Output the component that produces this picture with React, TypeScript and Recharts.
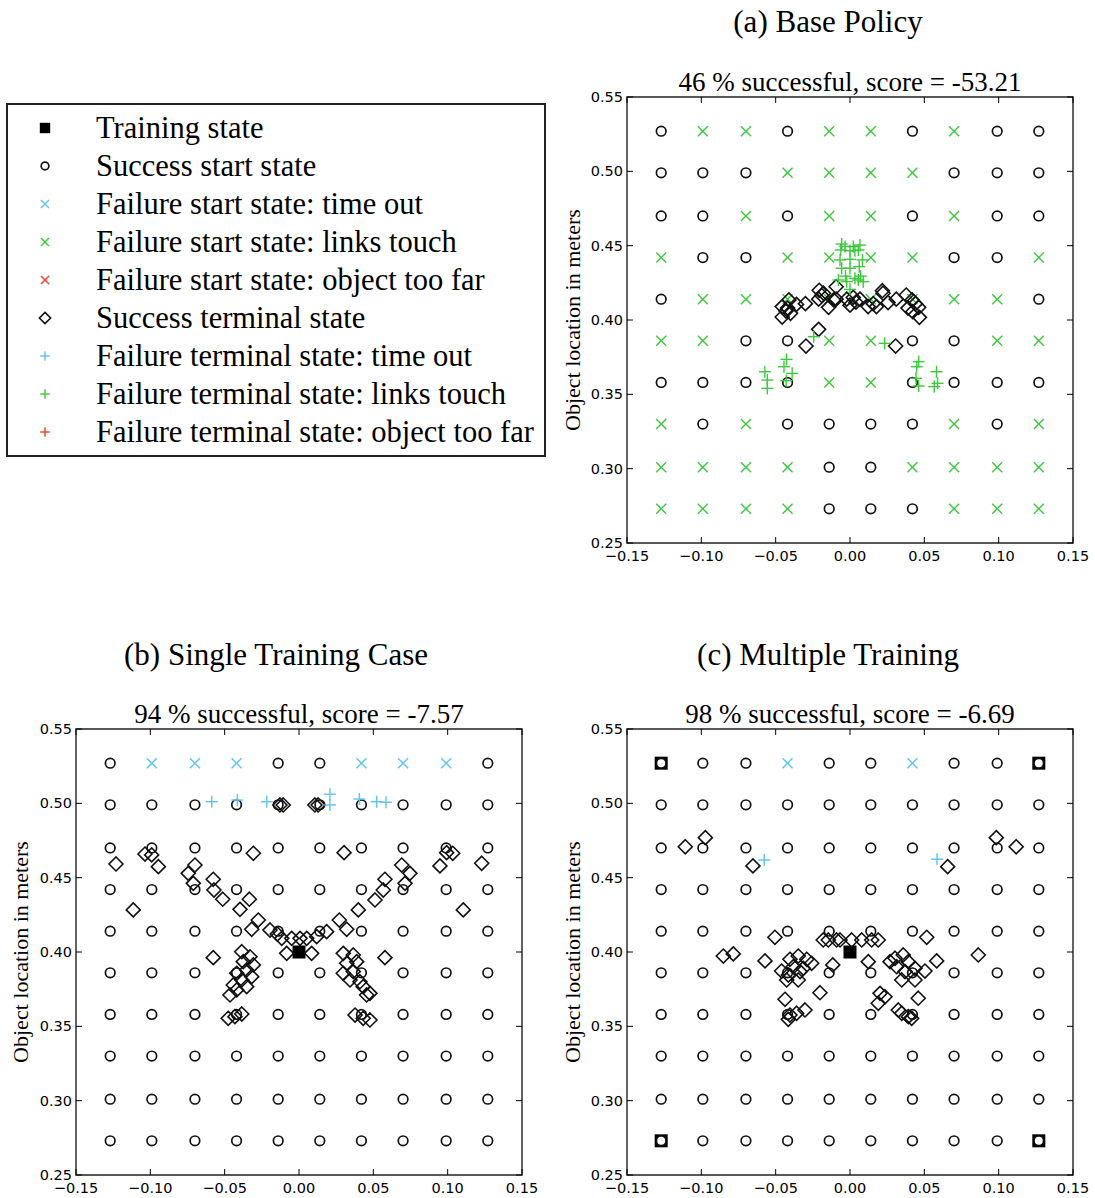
import { ScatterChart, Scatter, XAxis, YAxis, ReferenceArea } from 'recharts'

const GREEN = '#3cc83c'
const BLUE = '#5cc2f7'
const RED = '#ff3a1a'
const SERIF = '"Liberation Serif", "Times New Roman", serif'

// start-state grid (10 x 10)
const GRID_X = [-0.127, -0.099, -0.07, -0.042, -0.014, 0.014, 0.042, 0.07, 0.099, 0.127]
const GRID_Y = [0.527, 0.499, 0.47, 0.442, 0.414, 0.386, 0.358, 0.33, 0.301, 0.273]

const X_TICKS = [-0.15, -0.1, -0.05, 0, 0.05, 0.1, 0.15]
const Y_TICKS = [0.25, 0.3, 0.35, 0.4, 0.45, 0.5, 0.55]

// o = success, g = links touch, t = time out
const GRID_A = [
  'oggoggogoo',
  'ooogggggoo'.slice(0, 3) + 'gggg' + 'ooo',
  'oogoggogoo',
  'googgggoog',
  'oggggggggo',
  'ggooggoogg',
  'oooogggooo'.slice(0, 4) + 'gg' + 'oooo',
  'gogoooogog',
  'ggggoogggg',
  'ggggooggg'.slice(0, 4) + 'ooo' + 'ggg',
]
const GRID_B = [
  'otttoottto',
  'oooooooooo',
  'oooooooooo',
  'oooooooooo',
  'oooooooooo',
  'oooooooooo',
  'oooooooooo',
  'oooooooooo',
  'oooooooooo',
  'oooooooooo',
]
const GRID_C = [
  'ooottootooo'.slice(0, 3) + 'toot' + 'ooo',
  'oooooooooo',
  'oooooooooo',
  'oooooooooo',
  'oooooooooo',
  'oooooooooo',
  'oooooooooo',
  'oooooooooo',
  'oooooooooo',
  'oooooooooo',
]

const TRAIN_B = [[0, 0.4]]
const TRAIN_C = [[0, 0.4], [-0.127, 0.527], [0.127, 0.527], [-0.127, 0.273], [0.127, 0.273]]

const A_DIAMONDS = [
  [-0.0456, 0.409], [-0.0411, 0.4135], [-0.04, 0.4045], [-0.0456, 0.402], [-0.036, 0.4105],
  [-0.03, 0.411], [-0.0207, 0.42], [-0.0211, 0.414], [-0.0144, 0.4085], [-0.0093, 0.4224],
  [-0.0093, 0.414], [-0.0022, 0.414], [0.0, 0.41], [0.0022, 0.4152], [0.0067, 0.414],
  [0.0122, 0.409], [0.0178, 0.409], [0.0218, 0.4197], [0.0222, 0.418], [0.0256, 0.4117],
  [0.0311, 0.414], [0.0378, 0.4168], [0.0418, 0.4135], [0.0422, 0.4056], [0.0462, 0.4085],
  [0.0467, 0.4018], [-0.0211, 0.3937], [-0.0296, 0.3825], [0.0307, 0.3825], [-0.0178, 0.418],
  [-0.042, 0.408], [0.039, 0.408], [-0.011, 0.4135], [0.0156, 0.411], [-0.019, 0.4165],
  [0.004, 0.412], [0.044, 0.411], [-0.043, 0.406],
]
const A_PLUS = [
  [-0.0056, 0.4511], [0.0067, 0.4504], [-0.0062, 0.4471], [0.0, 0.4466], [0.0033, 0.4466],
  [0.0056, 0.4471], [-0.0067, 0.4404], [0.0, 0.4408], [0.0084, 0.4404], [-0.0056, 0.4348],
  [0.0, 0.4348], [0.0062, 0.4359], [-0.0078, 0.4269], [-0.0022, 0.4258], [0.0033, 0.428],
  [0.0056, 0.4269], [0.0089, 0.4258], [0.0, 0.4206], [-0.0033, 0.4495], [0.0022, 0.4494],
  [-0.003, 0.4295], [0.0072, 0.4295], [-0.0244, 0.3888], [0.0233, 0.3843], [-0.0573, 0.3652],
  [-0.0556, 0.3596], [-0.0556, 0.354], [-0.0427, 0.3735], [-0.0444, 0.3686], [-0.0389, 0.3641],
  [-0.0429, 0.3592], [0.0462, 0.372], [0.0449, 0.3686], [0.0444, 0.3608], [0.0462, 0.3556],
  [0.0582, 0.3652], [0.0589, 0.3574], [0.0567, 0.3552],
]

const B_DIAMONDS = [
  [-0.1231, 0.4592], [-0.1036, 0.4659], [-0.0991, 0.4653], [-0.0946, 0.4574], [-0.1115, 0.4283],
  [-0.0745, 0.4529], [-0.07, 0.4585], [-0.0711, 0.4462], [-0.0577, 0.4489], [-0.0572, 0.4417],
  [-0.0513, 0.4355], [-0.0397, 0.4287], [-0.0334, 0.4355], [-0.0307, 0.4664], [-0.0274, 0.4215],
  [-0.0318, 0.4153], [-0.0195, 0.4148], [-0.0146, 0.4121], [-0.0116, 0.4092], [-0.0049, 0.4092],
  [0.0007, 0.4092], [0.0052, 0.4092], [0.0119, 0.4103], [0.0186, 0.4137], [0.0271, 0.4215],
  [0.0321, 0.4153], [0.0399, 0.4283], [0.0511, 0.435], [0.0567, 0.4417], [0.0578, 0.4489],
  [0.0691, 0.4585], [0.0746, 0.4529], [0.0713, 0.4462], [0.0948, 0.4579], [0.0993, 0.4668],
  [0.1034, 0.4664], [0.1229, 0.4597], [0.1105, 0.4283], [0.0303, 0.4668], [-0.0083, 0.3991],
  [0.0085, 0.3991], [-0.0577, 0.3962], [0.0578, 0.3962],
  [-0.0385, 0.4002], [-0.033, 0.3968], [-0.0375, 0.3935], [-0.0307, 0.3913], [-0.0419, 0.3857],
  [-0.0352, 0.3879], [-0.0318, 0.3834], [-0.0385, 0.3812], [-0.0442, 0.3778], [-0.0352, 0.3767],
  [-0.0419, 0.3745], [-0.0464, 0.3711], [-0.0476, 0.3554], [-0.0431, 0.3565], [-0.0385, 0.3583],
  [0.0298, 0.3991], [0.0365, 0.398], [0.0321, 0.3924], [0.0388, 0.3935], [0.0298, 0.3857],
  [0.0365, 0.3868], [0.0343, 0.3812], [0.041, 0.38], [0.0432, 0.3767], [0.0455, 0.3711],
  [0.0477, 0.3722], [0.0377, 0.3576], [0.0432, 0.3554], [0.0477, 0.3543],
  [-0.0128, 0.4989], [-0.0106, 0.4989], [0.0107, 0.4989], [0.0129, 0.4989],
]
const B_PLUS = [
  [-0.0587, 0.5011], [-0.0415, 0.5022], [-0.0217, 0.5011], [0.0208, 0.5061],
  [0.0208, 0.4989], [0.0406, 0.5029], [0.0523, 0.5011], [0.0585, 0.5007],
]

const C_DIAMONDS = [
  [-0.1108, 0.4708], [-0.0973, 0.4769], [-0.0653, 0.4579], [0.0657, 0.4574], [0.0984, 0.4769],
  [0.1118, 0.4708], [-0.0505, 0.4099], [-0.0852, 0.3973], [-0.0785, 0.3987], [-0.0572, 0.394],
  [-0.0404, 0.3951], [-0.0348, 0.3973], [-0.0291, 0.3951], [-0.0258, 0.3924], [-0.046, 0.3872],
  [-0.0415, 0.3845], [-0.0381, 0.3901], [-0.0336, 0.3868], [-0.0314, 0.389], [-0.0426, 0.3812],
  [-0.0348, 0.3812], [-0.0437, 0.3682], [-0.0202, 0.3726], [-0.0404, 0.3576], [-0.0359, 0.3588],
  [-0.0303, 0.361], [-0.0415, 0.3547], [-0.0116, 0.3913], [-0.018, 0.4081], [-0.0146, 0.4081],
  [-0.009, 0.4081], [-0.0067, 0.4081], [0.0011, 0.4081], [0.0079, 0.4081], [0.0146, 0.4081],
  [0.019, 0.4081], [0.0123, 0.3935], [0.0516, 0.4099], [0.0863, 0.398], [0.0583, 0.394],
  [0.0269, 0.3935], [0.0303, 0.3958], [0.0358, 0.398], [0.0314, 0.3901], [0.0392, 0.3935],
  [0.037, 0.3868], [0.0437, 0.389], [0.0504, 0.3872], [0.0348, 0.3812], [0.0437, 0.3812],
  [0.0202, 0.3722], [0.0235, 0.3699], [0.019, 0.3655], [0.0459, 0.3689], [0.0325, 0.361],
  [0.0348, 0.3588], [0.0392, 0.3565], [0.0415, 0.3554],
]
const C_PLUS = [[-0.0577, 0.4619], [0.0585, 0.4624]]

const LEGEND = [
  { name: 'Training state', kind: 'square', color: '#000' },
  { name: 'Success start state', kind: 'circle', color: '#000' },
  { name: 'Failure start state: time out', kind: 'cross', color: BLUE },
  { name: 'Failure start state: links touch', kind: 'cross', color: GREEN },
  { name: 'Failure start state: object too far', kind: 'cross', color: RED },
  { name: 'Success terminal state', kind: 'diamond', color: '#000' },
  { name: 'Failure terminal state: time out', kind: 'plus', color: BLUE },
  { name: 'Failure terminal state: links touch', kind: 'plus', color: GREEN },
  { name: 'Failure terminal state: object too far', kind: 'plus', color: RED },
]

const PLOT = 446

const toPts = (arr: number[][]) => arr.map(([x, y]) => ({ x, y }))
const gridPts = (grid: string[], ch: string) =>
  grid.flatMap((row, r) =>
    row.split('').flatMap((c, i) => (c === ch ? [{ x: GRID_X[i], y: GRID_Y[r] }] : []))
  )

function Mark({ kind, color, cx, cy, s = 1 }: any) {
  if (cx == null || cy == null) return null
  if (kind === 'square') {
    const h = 6.5 * s
    return <rect x={cx - h} y={cy - h} width={2 * h} height={2 * h} fill="#000" />
  }
  if (kind === 'circle') {
    return <circle cx={cx} cy={cy} r={4.8 * s} fill="#fff" stroke="#111" strokeWidth={1.7} />
  }
  if (kind === 'cross') {
    const h = 5 * s
    return (
      <g stroke={color} strokeWidth={1.4}>
        <line x1={cx - h} y1={cy - h} x2={cx + h} y2={cy + h} />
        <line x1={cx - h} y1={cy + h} x2={cx + h} y2={cy - h} />
      </g>
    )
  }
  if (kind === 'diamond') {
    const h = 7 * s
    return (
      <polygon
        points={`${cx},${cy - h} ${cx + h},${cy} ${cx},${cy + h} ${cx - h},${cy}`}
        fill="none"
        stroke="#111"
        strokeWidth={1.6}
      />
    )
  }
  const h = 6 * s
  return (
    <g stroke={color} strokeWidth={1.4}>
      <line x1={cx - h} y1={cy} x2={cx + h} y2={cy} />
      <line x1={cx} y1={cy - h} x2={cx} y2={cy + h} />
    </g>
  )
}

const fmt = (v: number) => v.toFixed(2).replace('-', '\u2212')

function XTick({ x, y, payload }: any) {
  return (
    <g>
      <line x1={x} y1={y} x2={x} y2={y - 6} stroke="#000" />
      <line x1={x} y1={y - PLOT} x2={x} y2={y - PLOT + 6} stroke="#000" />
      <text x={x} y={y + 13} textAnchor="middle" dominantBaseline="central" fontFamily="DejaVu Sans" fontSize={14.5} fill="#000">
        {fmt(payload.value)}
      </text>
    </g>
  )
}

function YTick({ x, y, payload }: any) {
  return (
    <g>
      <line x1={x} y1={y} x2={x + 6} y2={y} stroke="#000" />
      <line x1={x + PLOT} y1={y} x2={x + PLOT - 6} y2={y} stroke="#000" />
      <text x={x - 4} y={y} textAnchor="end" dominantBaseline="central" fontFamily="DejaVu Sans" fontSize={14.5} fill="#000">
        {fmt(payload.value)}
      </text>
    </g>
  )
}

function Panel({ left, top, grid, train, diamonds, plus, plusColor }: any) {
  const shape = (kind: string, color: string) => (p: any) => <Mark kind={kind} color={color} cx={p.cx} cy={p.cy} />
  return (
    <div style={{ position: 'absolute', left: left - 60, top: top - 10 }}>
      <ScatterChart width={PLOT + 85} height={PLOT + 50} margin={{ top: 10, right: 25, left: 0, bottom: 0 }}>
        <XAxis
          type="number"
          dataKey="x"
          domain={[-0.15, 0.15]}
          ticks={X_TICKS}
          interval={0}
          height={40}
          tickSize={0}
          tickMargin={0}
          tickLine={false}
          axisLine={false}
          tick={<XTick />}
          allowDataOverflow
        />
        <YAxis
          type="number"
          dataKey="y"
          domain={[0.25, 0.55]}
          ticks={Y_TICKS}
          interval={0}
          width={60}
          tickSize={0}
          tickMargin={0}
          tickLine={false}
          axisLine={false}
          tick={<YTick />}
          allowDataOverflow
        />
        <Scatter data={toPts(train)} shape={shape('square', '#000')} isAnimationActive={false} />
        <Scatter data={gridPts(grid, 'o')} shape={shape('circle', '#000')} isAnimationActive={false} />
        <Scatter data={gridPts(grid, 't')} shape={shape('cross', BLUE)} isAnimationActive={false} />
        <Scatter data={gridPts(grid, 'g')} shape={shape('cross', GREEN)} isAnimationActive={false} />
        <Scatter data={toPts(diamonds)} shape={shape('diamond', '#000')} isAnimationActive={false} />
        <Scatter data={toPts(plus)} shape={shape('plus', plusColor)} isAnimationActive={false} />
        <ReferenceArea x1={-0.15} x2={0.15} y1={0.25} y2={0.55} fill="none" stroke="#222" strokeWidth={1.4} ifOverflow="visible" />
      </ScatterChart>
    </div>
  )
}

export default function App() {
  return (
    <div style={{ position: 'absolute', left: 0, top: 0, width: 1095, height: 1198, background: '#fff', overflow: 'hidden' }}>
      <Panel left={627} top={97} grid={GRID_A} train={[]} diamonds={A_DIAMONDS} plus={A_PLUS} plusColor={GREEN} />
      <Panel left={76} top={729} grid={GRID_B} train={TRAIN_B} diamonds={B_DIAMONDS} plus={B_PLUS} plusColor={BLUE} />
      <Panel left={627} top={729} grid={GRID_C} train={TRAIN_C} diamonds={C_DIAMONDS} plus={C_PLUS} plusColor={BLUE} />
      <svg width={1095} height={1198} style={{ position: 'absolute', left: 0, top: 0, pointerEvents: 'none' }}>
        <g fontFamily={SERIF} fill="#000" textAnchor="middle" dominantBaseline="central">
          <text x={828} y={21} fontSize={31}>(a) Base Policy</text>
          <text x={850} y={82} fontSize={27}>46 % successful, score = -53.21</text>
          <text x={276} y={654} fontSize={31}>(b) Single Training Case</text>
          <text x={299} y={714} fontSize={27}>94 % successful, score = -7.57</text>
          <text x={828} y={654} fontSize={31}>(c) Multiple Training</text>
          <text x={850} y={714} fontSize={27}>98 % successful, score = -6.69</text>
          <text x={572} y={320} fontSize={22} transform="rotate(-90 572 320)">Object location in meters</text>
          <text x={20} y={952} fontSize={22} transform="rotate(-90 20 952)">Object location in meters</text>
          <text x={572} y={952} fontSize={22} transform="rotate(-90 572 952)">Object location in meters</text>
        </g>
        <rect x={7} y={104} width={538} height={352} fill="#fff" stroke="#222" strokeWidth={2} />
        {LEGEND.map((item, i) => (
          <g key={item.name}>
            <Mark kind={item.kind} color={item.color} cx={45} cy={128 + i * 38} s={0.8} />
            <text x={96} y={128 + i * 38} fontFamily={SERIF} fontSize={30.5} dominantBaseline="central" fill="#000">
              {item.name}
            </text>
          </g>
        ))}
      </svg>
    </div>
  )
}
